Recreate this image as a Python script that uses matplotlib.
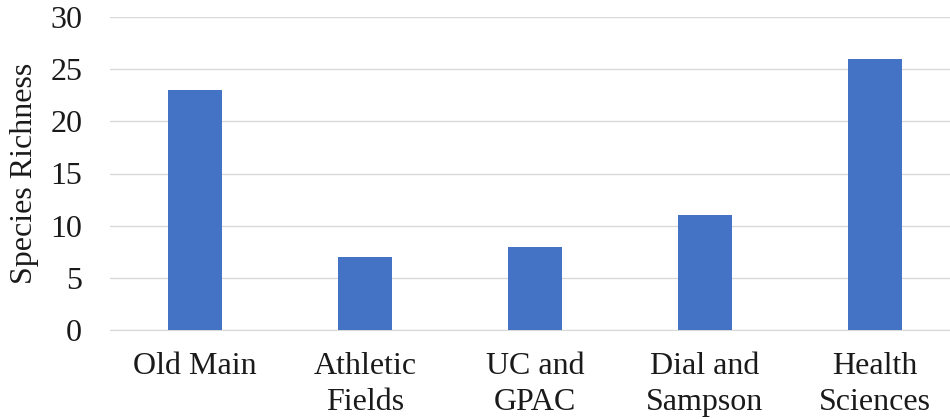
import matplotlib
matplotlib.use("Agg")
import matplotlib.pyplot as plt

categories = ["Old Main", "Athletic\nFields", "UC and\nGPAC", "Dial and\nSampson", "Health\nSciences"]
richness = [23, 7, 8, 11, 26]
yticks = [0, 5, 10, 15, 20, 25, 30]

plt.rcParams['font.family'] = ['Liberation Serif', 'DejaVu Serif']

W, H = 950, 420
fig = plt.figure(figsize=(W/100, H/100), dpi=100)
ax = fig.add_axes([110/W, 90/H, 850/W, 313/H])

x = list(range(len(categories)))
ax.bar(x, richness, width=0.32, color="#4472C4", zorder=3)
ax.set_xlim(-0.5, len(categories) - 0.5)
ax.set_ylim(0, 30)
ax.set_yticks(yticks)
ax.set_xticks(x)
ax.set_xticklabels(categories, fontsize=23, color="#1a1a1a", linespacing=1.3)
ax.tick_params(axis='y', labelsize=23, length=0, pad=20, colors="#1a1a1a")
ax.tick_params(axis='x', length=0, pad=16)
ax.grid(axis='y', color="#d9d9d9", linewidth=1, zorder=0)
for s in ['top', 'right', 'left']:
    ax.spines[s].set_visible(False)
ax.spines['bottom'].set_color("#d9d9d9")
ax.set_ylabel("Species Richness", fontsize=23, color="#1a1a1a", labelpad=8)

fig.savefig("out.png", dpi=100)
